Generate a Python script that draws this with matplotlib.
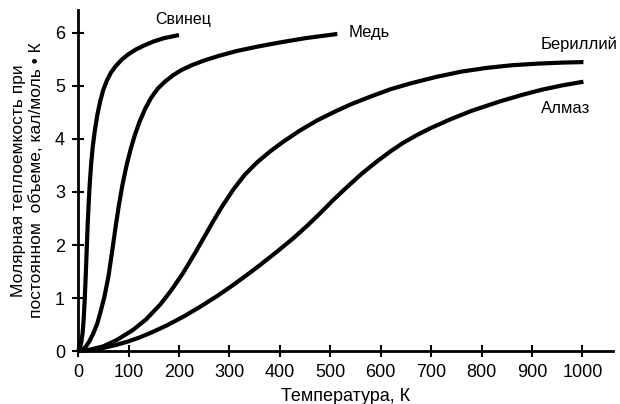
import matplotlib.pyplot as plt

plt.rcParams['font.family'] = ['Liberation Sans', 'DejaVu Sans']

# temperature, K / heat capacity, cal/(mol*K)
lead_t = [0, 3, 6, 9, 11, 13, 15, 17, 19, 21, 23, 26, 29, 33, 38, 44, 50, 57, 65, 75, 87, 100, 115, 130, 150, 170, 185, 200]
lead_c = [0, 0.04, 0.15, 0.35, 0.6, 0.95, 1.4, 1.9, 2.4, 2.8, 3.15, 3.55, 3.85, 4.15, 4.45, 4.72, 4.93, 5.1, 5.25,
          5.38, 5.5, 5.6, 5.69, 5.76, 5.84, 5.9, 5.93, 5.96]

copper_t = [0, 8, 15, 22, 30, 38, 45, 52, 60, 67, 74, 81, 88, 96, 104, 112, 122, 133, 145, 158, 172, 188, 205, 225,
            250, 280, 315, 355, 400, 450, 514]
copper_c = [0, 0.02, 0.08, 0.18, 0.33, 0.52, 0.76, 1.02, 1.4, 1.85, 2.32, 2.76, 3.14, 3.5, 3.8, 4.06, 4.33, 4.57,
            4.78, 4.95, 5.08, 5.2, 5.3, 5.39, 5.48, 5.57, 5.66, 5.74, 5.82, 5.9, 5.98]

beryl_t = [0, 25, 50, 77, 109, 135, 163, 185, 208, 232, 256, 268, 285, 308, 330, 355, 380, 407, 440, 474, 510, 540,
           580, 620, 660, 710, 760, 810, 860, 910, 960, 1002]
beryl_c = [0, 0.03, 0.09, 0.21, 0.4, 0.6, 0.88, 1.15, 1.47, 1.85, 2.25, 2.45, 2.72, 3.05, 3.32, 3.56, 3.76, 3.95,
           4.16, 4.35, 4.52, 4.65, 4.8, 4.94, 5.05, 5.17, 5.27, 5.34, 5.39, 5.42, 5.44, 5.45]

diamond_t = [0, 25, 50, 75, 97, 120, 143, 175, 208, 242, 276, 308, 341, 361, 395, 427, 455, 480, 506, 534, 563, 593,
             620, 645, 675, 698, 738, 780, 837, 880, 920, 960, 1002]
diamond_c = [0, 0.02, 0.06, 0.115, 0.175, 0.25, 0.34, 0.48, 0.645, 0.835, 1.04, 1.25, 1.48, 1.625, 1.88, 2.13, 2.37,
             2.6, 2.85, 3.1, 3.35, 3.58, 3.77, 3.93, 4.09, 4.2, 4.37, 4.53, 4.71, 4.83, 4.93, 5.01, 5.08]

xticks = [0, 100, 200, 300, 400, 500, 600, 700, 800, 900, 1000]
yticks = [0, 1, 2, 3, 4, 5, 6]

fig = plt.figure(figsize=(6.2, 4.04), dpi=100)
ax = fig.add_axes([0.126, 0.131, 0.863, 0.844])

for t, c in [(lead_t, lead_c), (copper_t, copper_c), (beryl_t, beryl_c), (diamond_t, diamond_c)]:
    ax.plot(t, c, color='black', lw=3, solid_capstyle='butt', solid_joinstyle='round', clip_on=False)

ax.text(153, 6.25, 'Свинец', fontsize=11.5, va='center')
ax.text(537, 6.0, 'Медь', fontsize=12, va='center')
ax.text(917, 5.79, 'Бериллий', fontsize=12, va='center')
ax.text(917, 4.58, 'Алмаз', fontsize=12, va='center')

ax.set_xlim(0, 1061)
ax.set_ylim(0, 6.43)
ax.set_xticks(xticks)
ax.set_yticks(yticks)
ax.tick_params(direction='inout', length=9, width=1.5, labelsize=13, pad=5)
for s in ['top', 'right']:
    ax.spines[s].set_visible(False)
for s in ['left', 'bottom']:
    ax.spines[s].set_linewidth(2)

ax.set_xlabel('Температура, К', fontsize=13, labelpad=5)
ax.set_ylabel('Молярная теплоемкость при\nпостоянном  объеме, кал/моль • К', fontsize=12.5, labelpad=8)

plt.savefig('out.png')
